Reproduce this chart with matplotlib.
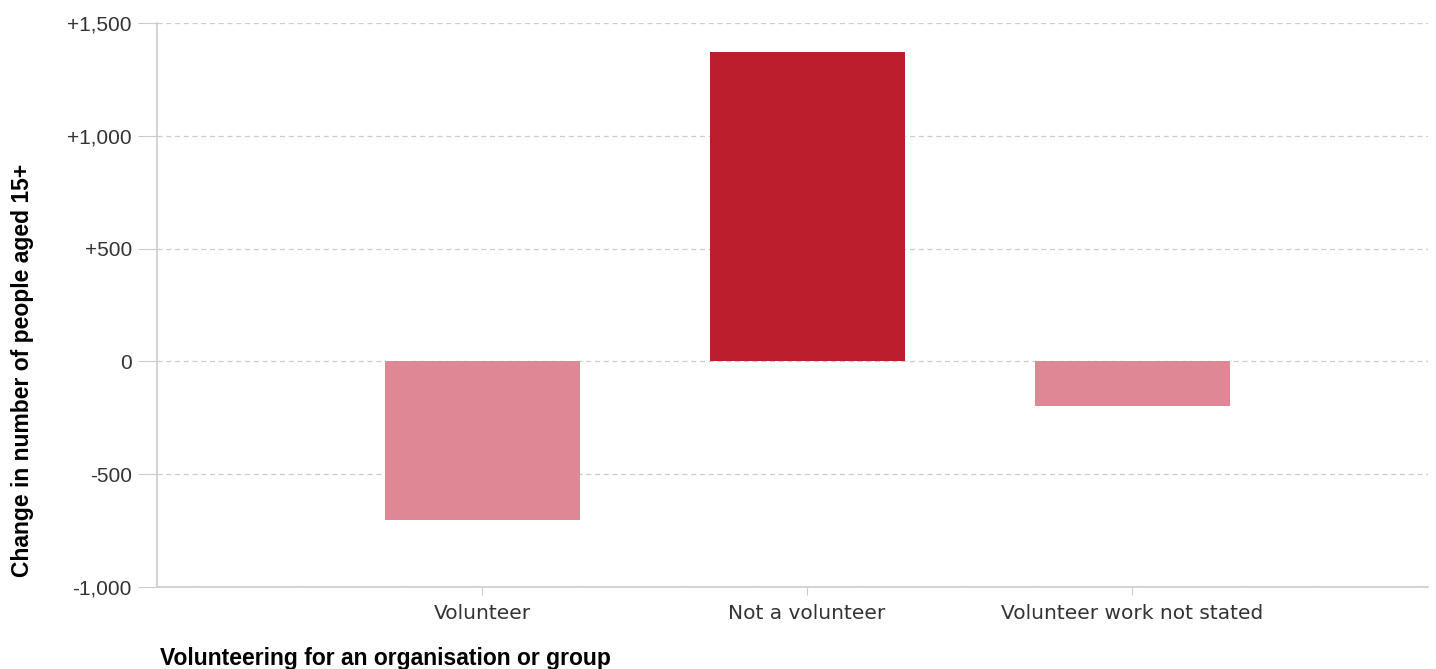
import matplotlib.pyplot as plt
import numpy as np

# Datos
categorias = ["Volunteer", "Not a volunteer", "Volunteer work not stated"]
cambios = [-705, 1373, -197]
colores = ["#DF8795", "#BC1E2D", "#DF8795"]
ticks_y = [-1000, -500, 0, 500, 1000, 1500]
etiquetas_y = ["-1,000", "-500", "0", "+500", "+1,000", "+1,500"]

plt.rcParams['font.family'] = ['Liberation Sans', 'DejaVu Sans']

fig = plt.figure(figsize=(14.36, 6.69), dpi=100)
ax = fig.add_axes([0.1093, 0.1226, 0.8851, 0.843])

x = np.arange(len(categorias))
ax.bar(x, cambios, width=0.6, color=colores, zorder=3)

ax.set_xlim(-1, 2.91)
ax.set_ylim(-1000, 1500)
ax.set_yticks(ticks_y)
ax.set_yticklabels(etiquetas_y, fontsize=15, color="#333333")
ax.set_xticks(x)
ax.set_xticklabels(categorias, fontsize=14.5, color="#333333", family="DejaVu Sans")

# Rejilla discontinua
ax.grid(axis="y", linestyle=(0, (4, 3)), color="#CCCCCC", linewidth=0.9, zorder=0)
ax.tick_params(axis="y", length=14, color="#CCCCCC", pad=4)
ax.tick_params(axis="x", length=6, color="#CCCCCC", pad=6)

for lado in ["top", "right"]:
    ax.spines[lado].set_visible(False)
for lado in ["left", "bottom"]:
    ax.spines[lado].set_color("#CCCCCC")
    ax.spines[lado].set_linewidth(1.2)

fig.text(0.016, 0.447, "Change in number of people aged 15+", fontsize=16.5, fontweight="bold",
         rotation=90, ha="center", va="center")
fig.text(0.1115, 0.006, "Volunteering for an organisation or group", fontsize=16.5, fontweight="bold",
         ha="left", va="baseline")

plt.savefig("out.png", dpi=100)
